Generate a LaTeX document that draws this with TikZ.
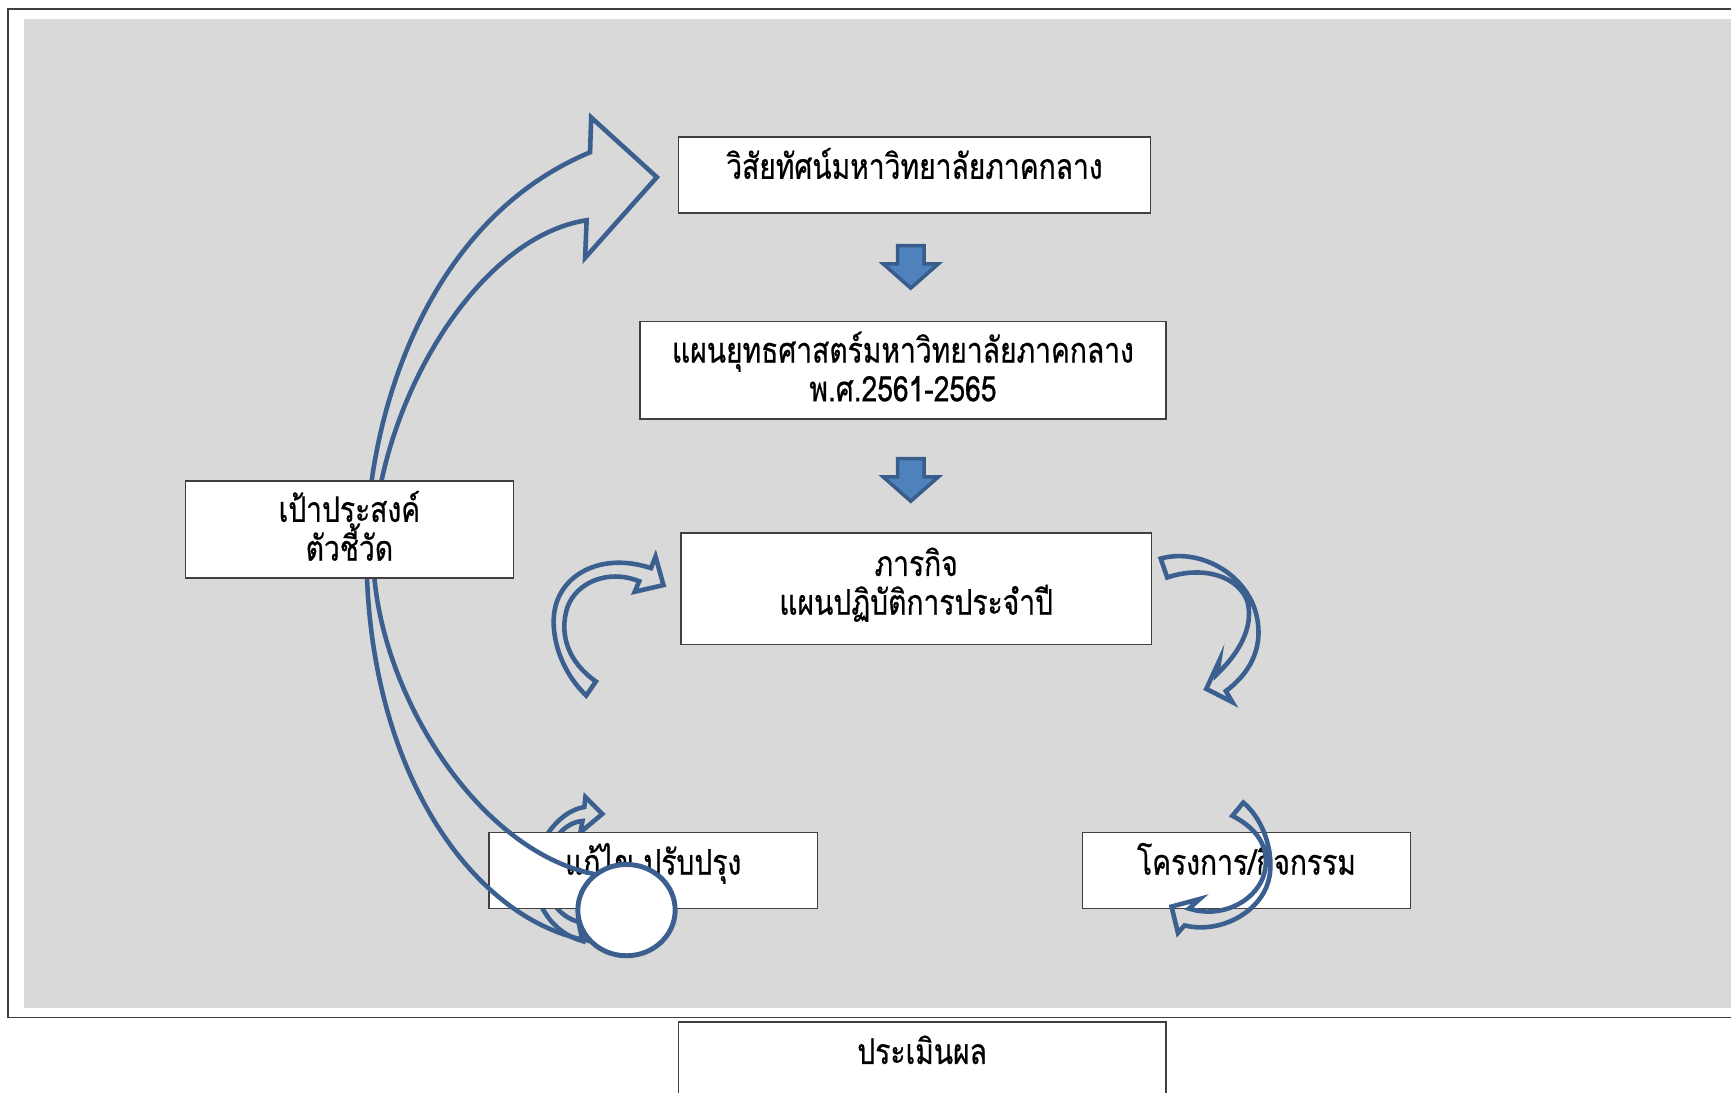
\documentclass[tikz,border=0pt]{standalone}
\usepackage{fontspec}
\setmainfont[Script=Thai, FakeStretch=0.8, FakeBold=0.6]{Loma}
\usepackage{tikz}
\usetikzlibrary{shapes, arrows}
\definecolor{bggray}{HTML}{D9D9D9}
\definecolor{ringblue}{HTML}{3B6090}
\definecolor{blockblue}{HTML}{4F81BD}
\definecolor{blockedge}{HTML}{385D8A}
\definecolor{boxline}{HTML}{404040}
\tikzstyle{box} = [rectangle, text height=0.418cm, text centered, align=center, draw=boxline, line width=0.4pt, fill=white, inner sep=0pt, font=\fontsize{10}{11}\selectfont]
\tikzstyle{twoline} = [text height=0.795cm]
\tikzstyle{blockarrow} = [draw=blockedge, line width=1pt, fill=blockblue, line join=miter]
\tikzstyle{curvearrow} = [draw=ringblue, line width=1.3pt, line join=miter]
\tikzstyle{ring} = [ellipse, draw=ringblue, line width=1.4pt, fill=white, minimum width=0.97cm, minimum height=0.91cm, inner sep=0pt]

\begin{document}
\begin{tikzpicture}[x=0.011cm, y=-0.011cm]

\useasboundingbox (0,0) rectangle (1568,990);
\fill [white] (0,0) rectangle (1568,990);
\draw [boxline, line width=0.5pt] (7,8) rectangle (1600,921.6);
\fill [bggray] (21.8,17.5) rectangle (1600,912.7);

\node (0) [box, minimum width=4.70cm, text depth=0.339cm] at (828.3,158.4) {วิสัยทัศน์มหาวิทยาลัยภาคกลาง};
\node (1) [box, twoline, minimum width=5.24cm, text depth=0.177cm] at (817.9,335.5) {แผนยุทธศาสตร์มหาวิทยาลัยภาคกลาง\\พ.ศ.2561-2565};
\node (2) [box, twoline, minimum width=4.69cm, text height=0.815cm, text depth=0.297cm] at (829.9,533.3) {ภารกิจ\\แผนปฏิบัติการประจำปี};
\draw [blockarrow] (813,222.5) -- (837,222.5) -- (837,239) -- (850,239) -- (825,261) -- (800,239) -- (813,239) -- cycle;
\draw [blockarrow] (813,415.5) -- (837,415.5) -- (837,432) -- (850,432) -- (825,454) -- (800,432) -- (813,432) -- cycle;

\draw [curvearrow] (531,630) .. controls (505,605) and (498,570) .. (503,550) .. controls (510,520) and (545,500) .. (589.7,514.6) -- (593.8,504.2) -- (601,530) -- (575,536) -- (579,526.5) .. controls (550,515) and (522,528) .. (514,550) .. controls (506,575) and (515,600) .. (539.8,617.3) -- cycle;
\draw [curvearrow] (1051.4,506) .. controls (1090,495) and (1140,525) .. (1140,572.8) .. controls (1140,595) and (1128,613) .. (1110.4,626) -- (1116.3,636) -- (1092.7,624) -- (1104.5,598.4) -- (1102.5,610.5) .. controls (1122,592) and (1136,568) .. (1130,545) .. controls (1122,522) and (1090,512) .. (1057.3,523.1) -- cycle;

\node (5) [box, minimum width=3.27cm, text depth=0.337cm] at (1129.1,788.6) {โครงการ/กิจกรรม};
\draw [curvearrow] (1126.2,727) .. controls (1148,745) and (1158,785) .. (1145,808) .. controls (1132,832) and (1100,845) .. (1073,838.3) -- (1067,845) -- (1061.2,821.2) -- (1086.8,814.3) -- (1077,823) .. controls (1105,832) and (1135,818) .. (1144,795) .. controls (1152,772) and (1142,752) .. (1116.3,739) -- cycle;
\node (6) [box, minimum width=4.86cm, text depth=0.347cm] at (835.3,960.5) {ประเมินผล};

\draw [curvearrow] (527.6,852.4) .. controls (500,845) and (483,818) .. (484,790) .. controls (485,765) and (505,735) .. (529.3,731) -- (530.3,722) -- (545.6,737.3) -- (525.8,753.9) -- (527.6,743.7) .. controls (510,745) and (494,765) .. (494,790) .. controls (494,812) and (505,830) .. (524,835) -- cycle;
\node (4) [box, minimum width=3.27cm, text depth=0.337cm] at (591.7,788.6) {แก้ไข ปรับปรุง};
\draw [curvearrow] (534.5,852.4) .. controls (430,835) and (332,700) .. (332,500) .. controls (332,380) and (385,200) .. (534.5,138) -- (535.5,106.4) -- (595,160.5) -- (530,233.5) -- (531.4,199.5) .. controls (430,215) and (340,370) .. (338,500) .. controls (338,620) and (430,770) .. (538,791.7) -- cycle;
\node (3) [box, twoline, minimum width=3.27cm, text depth=0.173cm] at (316.5,479.6) {เป้าประสงค์\\ตัวชี้วัด};
\node (7) [ring] at (567.5,824.4) {};

\end{tikzpicture}
\end{document}
